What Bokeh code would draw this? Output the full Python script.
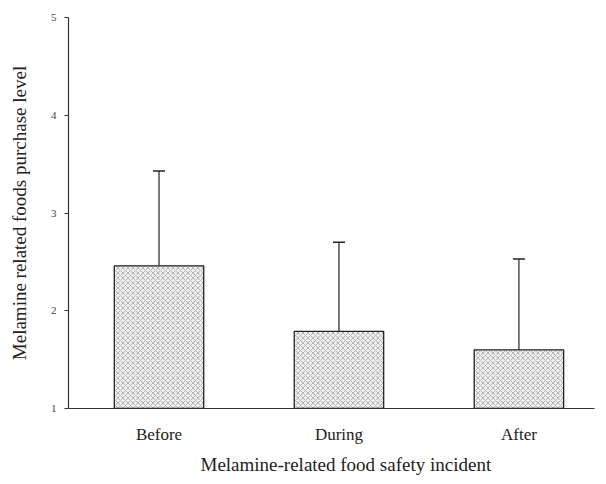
from bokeh.plotting import figure
from bokeh.models import Range1d, ColumnDataSource, Whisker, TeeHead, FixedTicker, Title
from bokeh.embed import file_html
from bokeh.resources import INLINE

categories = ["Before", "During", "After"]
means = [2.46, 1.79, 1.60]
upper_err = [3.43, 2.70, 2.53]
y_ticks = [1, 2, 3, 4, 5]

xs = [i + 1 for i in range(len(categories))]
src = ColumnDataSource(dict(x=xs, top=means, upper=upper_err, cat=categories))

FONT = "Liberation Serif"

p = figure(width=600, height=480, output_backend="svg", toolbar_location=None,
           x_range=Range1d(0.497, 3.42), y_range=Range1d(1, 5),
           min_border_left=68, min_border_top=17, min_border_bottom=72, min_border_right=6)
p.frame_width = 526
p.frame_height = 391
p.outline_line_color = None
p.grid.visible = False
p.background_fill_color = "white"

p.vbar(x="x", top="top", bottom=1, width=0.497, source=src,
       fill_color="#efefef", line_color="#222222", line_width=1.3,
       hatch_pattern="diagonal_cross", hatch_scale=5, hatch_color="#7a7a7a",
       hatch_alpha=0.7, hatch_weight=0.7)

w = Whisker(base="x", lower="top", upper="upper", source=src, dimension="height",
            line_color="#222222", line_width=1.2,
            upper_head=TeeHead(size=12, line_color="#222222", line_width=1.5),
            lower_head=None)
p.add_layout(w)

p.xaxis.ticker = FixedTicker(ticks=xs)
p.xaxis.major_label_overrides = {x: c for x, c in zip(xs, categories)}
p.xaxis.major_tick_line_color = None
p.xaxis.minor_tick_line_color = None
p.xaxis.axis_line_color = "#333333"
p.xaxis.axis_line_width = 1.2
p.xaxis.major_label_text_font = FONT
p.xaxis.major_label_text_font_size = "17px"
p.xaxis.major_label_text_color = "#222222"
p.xaxis.major_label_standoff = 10

xt = Title(text="Melamine-related food safety incident", align="left", offset=132,
           text_font=FONT, text_font_style="normal", text_font_size="19px",
           text_color="#222222", standoff=11)
p.add_layout(xt, "below")

p.yaxis.ticker = FixedTicker(ticks=y_ticks)
p.yaxis.minor_tick_line_color = None
p.yaxis.major_tick_in = 0
p.yaxis.major_tick_out = 4
p.yaxis.major_tick_line_color = "#333333"
p.yaxis.axis_line_color = "#333333"
p.yaxis.axis_line_width = 1.2
p.yaxis.major_label_text_font = FONT
p.yaxis.major_label_text_font_size = "11px"
p.yaxis.major_label_text_color = "#444444"
p.yaxis.major_label_standoff = 8
p.yaxis.axis_label = "Melamine related foods purchase level"
p.yaxis.axis_label_text_font = FONT
p.yaxis.axis_label_text_font_style = "normal"
p.yaxis.axis_label_text_font_size = "19px"
p.yaxis.axis_label_text_color = "#222222"
p.yaxis.axis_label_standoff = 18

open("out.html", "w").write(file_html(p, INLINE))
